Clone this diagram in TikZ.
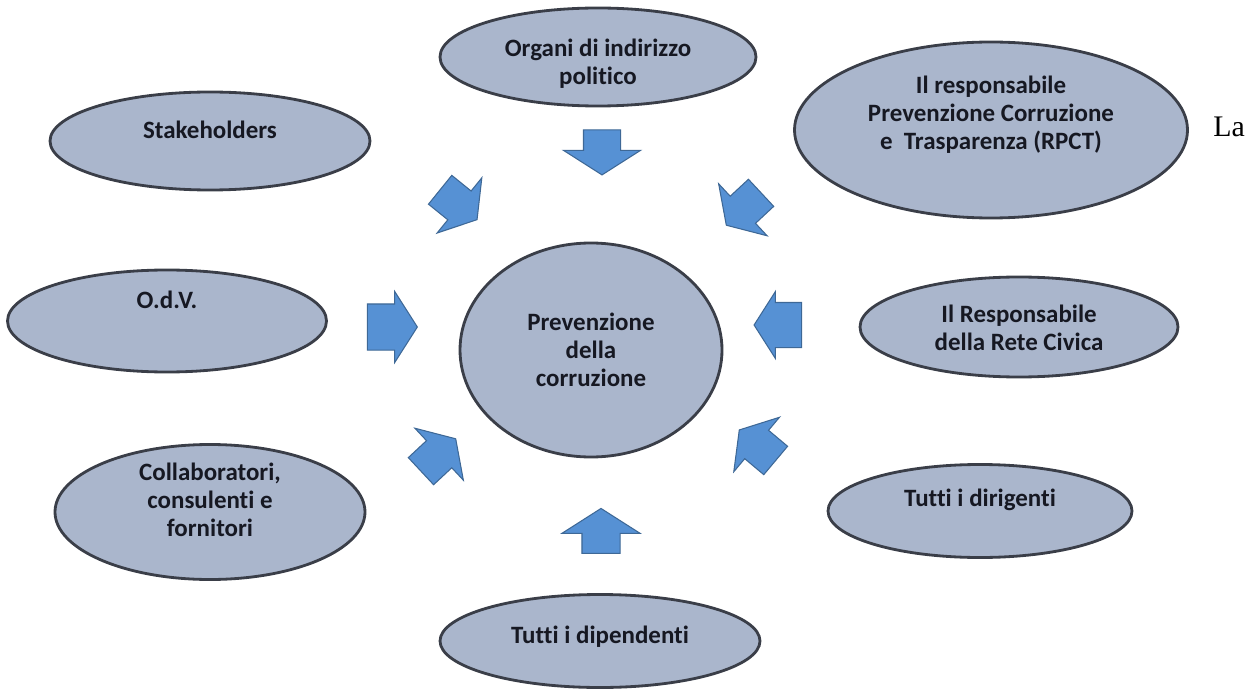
\documentclass[tikz,border=0pt]{standalone}
\usepackage{fontspec}
\usepackage{tikz}
\newfontfamily\carlito[Ligatures=NoCommon]{Carlito}
\newfontfamily\serifla{Liberation Serif}
\definecolor{blobfill}{RGB}{170,182,204}
\definecolor{blobline}{RGB}{58,62,72}
\definecolor{pushfill}{RGB}{86,145,212}
\definecolor{pushline}{RGB}{62,104,150}
\definecolor{ink}{RGB}{22,24,34}
\usetikzlibrary{positioning,shapes.geometric,shapes.arrows}
\tikzset{%
  blob/.style={draw=blobline, fill=blobfill, ellipse, line width=1.6pt},% grey ellipse
  txt/.style={align=center, text=ink, font=\carlito\bfseries\fontsize{14.2}{16}\selectfont},% ellipse text
  push/.style={draw=pushline, fill=pushfill, shape=single arrow, line width=0.6pt,
    single arrow head extend=0.34cm, single arrow tip angle=115,
    minimum height=0.95cm, inner xsep=0pt, inner ysep=0.36cm}% block arrows
}

\begin{document}
\begin{tikzpicture}
\useasboundingbox (0,0) rectangle (24.98,13.82);
% ellipses
\node[blob, minimum width=6.32cm, minimum height=1.96cm] (org) at (11.96,12.68) {};
\node[blob, minimum width=7.86cm, minimum height=3.52cm] (rpct) at (19.82,11.22) {};
\node[blob, minimum width=6.40cm, minimum height=1.96cm] (stk) at (4.20,11.00) {};
\node[blob, minimum width=6.38cm, minimum height=2.04cm] (odv) at (3.34,7.40) {};
\node[blob, minimum width=5.24cm, minimum height=4.28cm] (prev) at (11.82,6.82) {};
\node[blob, minimum width=6.36cm, minimum height=2.00cm] (rete) at (20.38,7.28) {};
\node[blob, minimum width=6.20cm, minimum height=2.70cm] (coll) at (4.20,3.58) {};
\node[blob, minimum width=6.08cm, minimum height=1.86cm] (dir) at (19.60,3.60) {};
\node[blob, minimum width=6.40cm, minimum height=1.86cm] (dip) at (12.00,1.00) {};

\node[txt] (org-t) at (11.96,12.55) {Organi di indirizzo\\politico};
\node[txt] (rpct-t) at (19.82,11.52) {Il responsabile\\Prevenzione Corruzione\\e\ \ Trasparenza (RPCT)};
\node[txt] (stk-t) at (4.20,11.22) {Stakeholders};
\node[txt] (odv-t) at (3.34,7.82) {O.d.V.};
\node[txt] (prev-t) at (11.82,6.82) {Prevenzione\\della\\corruzione};
\node[txt] (rete-t) at (20.38,7.27) {Il Responsabile\\della Rete Civica};
\node[txt] (coll-t) at (4.20,3.82) {Collaboratori,\\consulenti e\\fornitori};
\node[txt] (dir-t) at (19.60,3.82) {Tutti i dirigenti};
\node[txt] (dip-t) at (12.00,1.08) {Tutti i dipendenti};

% arrows
\node[push, rotate=-90, minimum height=0.9cm, single arrow head extend=0.4cm] (a-top) at (12.04,10.89) {};
\node[push, rotate=90, minimum height=0.9cm, inner ysep=0.37cm, single arrow head extend=0.4cm] (a-bot) at (12.02,3.08) {};
\node[push, inner ysep=0.45cm, single arrow head extend=0.25cm, minimum height=1.0cm] (a-left) at (7.70,7.28) {};
\node[push, rotate=180, inner ysep=0.44cm, single arrow head extend=0.22cm] (a-right) at (15.70,7.32) {};
\node[push, rotate=-39] (a-tl) at (9.08,9.80) {};
\node[push, rotate=-137] (a-tr) at (14.96,9.72) {};
\node[push, rotate=43] (a-bl) at (8.68,4.64) {};
\node[push, rotate=140] (a-br) at (15.24,4.84) {};

\node[anchor=base west, inner sep=0pt, font=\serifla\fontsize{17}{20}\selectfont] (la) at (24.26,11.08) {La};
\end{tikzpicture}
\end{document}
